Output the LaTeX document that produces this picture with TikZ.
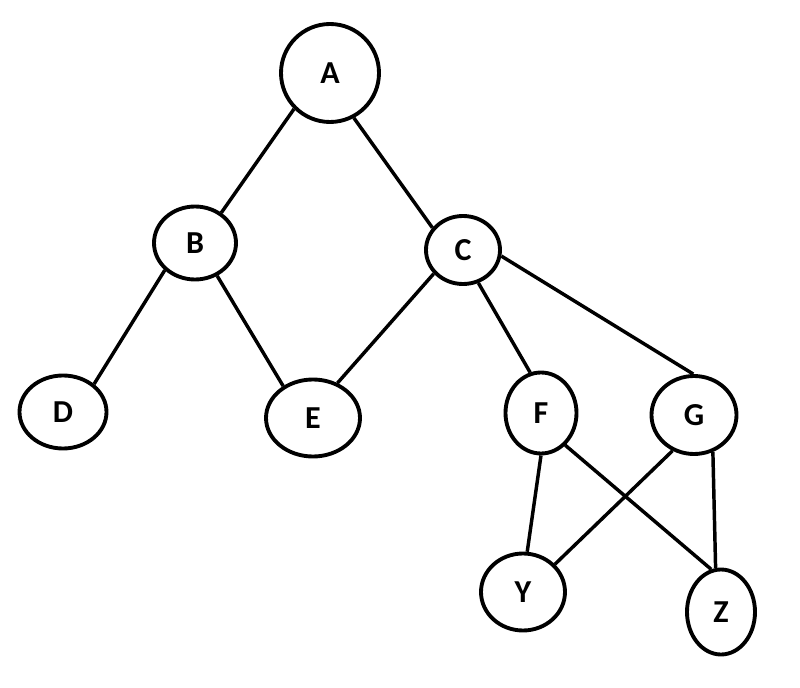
\documentclass[tikz,border=0pt]{standalone}
\usepackage{fontspec}
\setmainfont{Carlito}
\usetikzlibrary{shapes.geometric}
\tikzset{
  vertex/.style={ellipse, draw, line width=2.9pt, inner sep=0pt, font=\fontsize{24}{28}\selectfont\bfseries},
  edge/.style={line width=2.6pt}
}
\begin{document}
\begin{tikzpicture}[x=0.75pt,y=-0.75pt]
            \useasboundingbox (0,0) rectangle (800,688);
            \node[vertex, minimum width=98pt*0.75, minimum height=98pt*0.75] (A) at (330,73) {A};
            \node[vertex, minimum width=82pt*0.75, minimum height=73pt*0.75] (B) at (195,243) {B};
            \node[vertex, minimum width=74pt*0.75, minimum height=68pt*0.75] (C) at (463,250) {C};
            \node[vertex, minimum width=87pt*0.75, minimum height=73pt*0.75] (D) at (63,412) {D};
            \node[vertex, minimum width=94pt*0.75, minimum height=77pt*0.75] (E) at (313,418) {E};
            \node[vertex, minimum width=71pt*0.75, minimum height=81pt*0.75] (F) at (541,413) {F};
            \node[vertex, minimum width=85pt*0.75, minimum height=78pt*0.75] (G) at (694,415) {G};
            \node[vertex, minimum width=84pt*0.75, minimum height=77pt*0.75] (Y) at (523,592) {Y};
            \node[vertex, minimum width=68pt*0.75, minimum height=85pt*0.75] (Z) at (721,612) {Z};

            \foreach \s/\a/\t/\b in {A/-135/B/49, A/-62/C/144, B/-138/D/42, B/-56/E/133,
                    C/-141/E/55, C/-65/F/105, C/-9/G/91, F/-90/Y/84, F/-53/Z/103,
                    G/-121/Y/41, G/-63/Z/97}
                \draw[edge] (\s.\a)--(\t.\b);
        \end{tikzpicture}
\end{document}
